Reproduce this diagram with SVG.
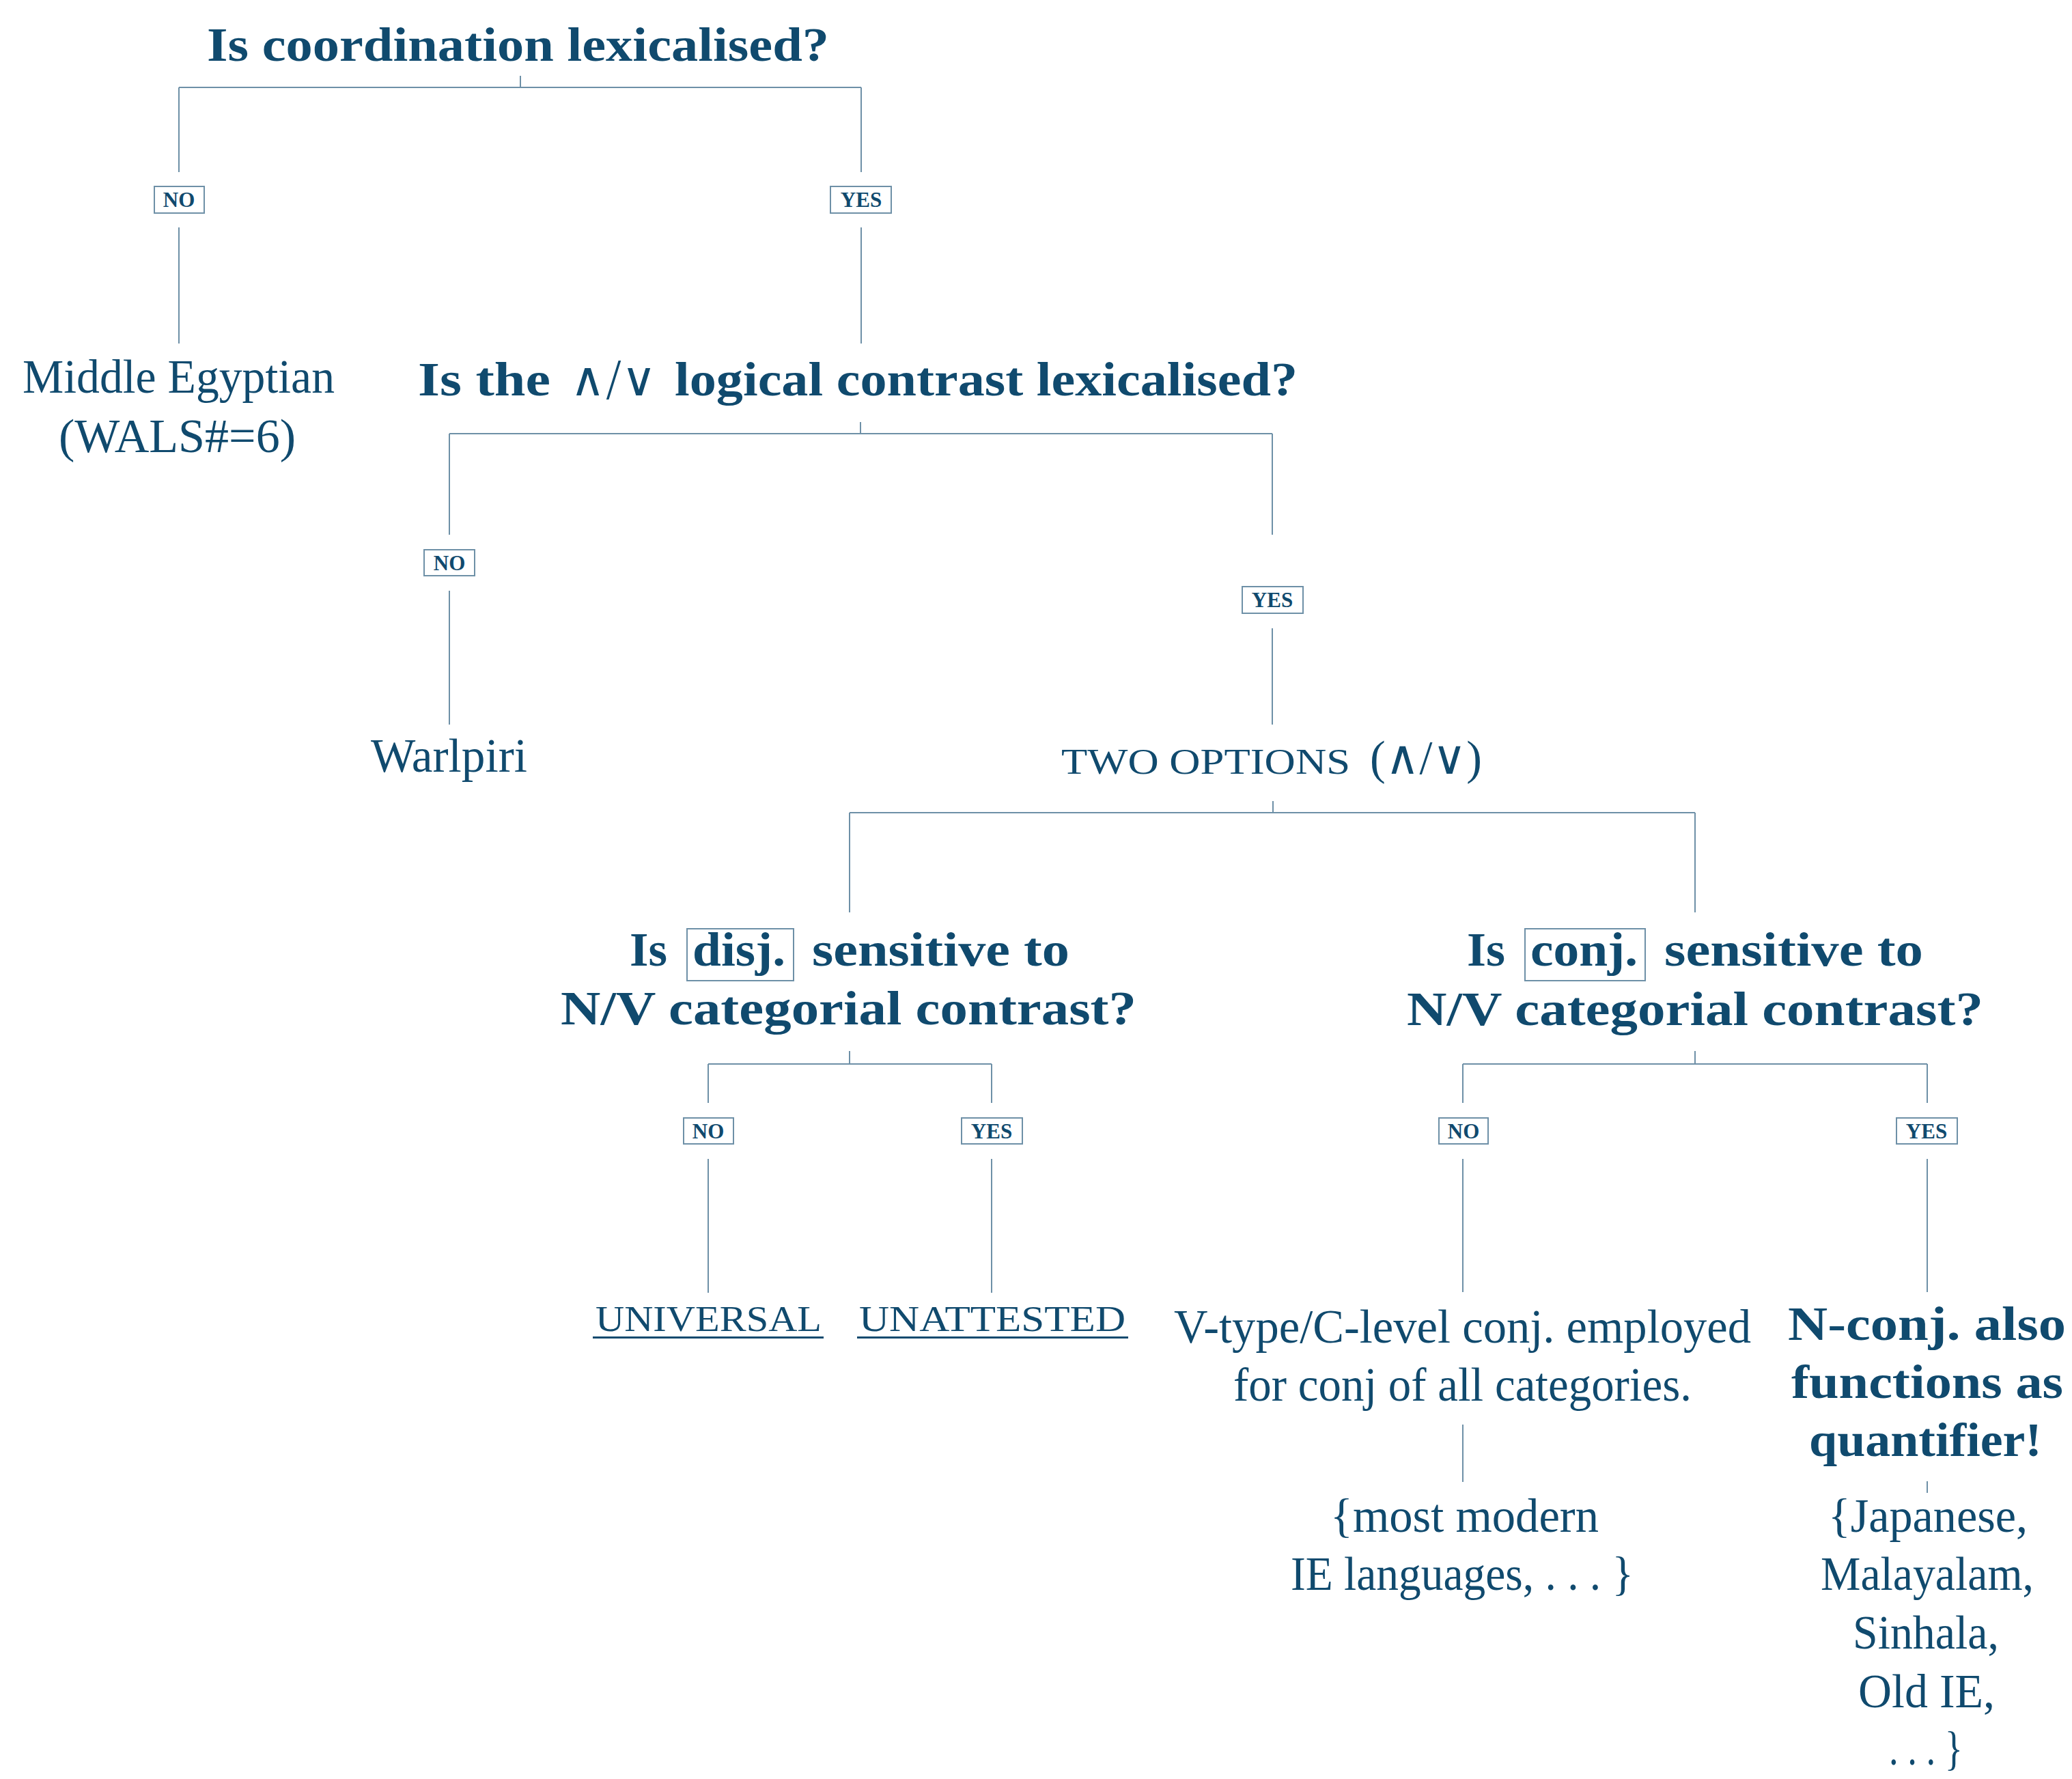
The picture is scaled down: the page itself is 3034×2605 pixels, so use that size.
<svg xmlns="http://www.w3.org/2000/svg" width="3034" height="2605" viewBox="0 0 3034 2605">
<style>
text{font-family:"Liberation Serif","DejaVu Serif",serif;fill:#104a6e}
.b{font-weight:bold;font-size:69px}
.r{font-size:69px}
.sc{font-size:53px}
.m{font-family:"DejaVu Sans","Liberation Serif",sans-serif;font-weight:200}
.lbl{font-weight:bold;font-size:31px;text-anchor:middle}
.edge{fill:none;stroke:#6e90a7;stroke-width:2}
.box{fill:#fff;stroke:#6e90a7;stroke-width:2}
.ul{fill:#104a6e}
</style>
<rect width="3034" height="2605" fill="#fff"/>
<g id="connectors" class="edge">
<path d="M762,111V128M262,128H1261M262,128V252M1261,128V252M262,333V503M1261,333V503"/>
<path d="M1260,618V635M658,635H1863M658,635V783M1863,635V783M658,865V1061M1863,920V1061"/>
<path d="M1864,1173V1190M1244,1190H2482M1244,1190V1336M2482,1190V1336"/>
<path d="M1244,1539V1558M1037,1558H1452M1037,1558V1615M1452,1558V1615M1037,1697V1893M1452,1697V1893"/>
<path d="M2482,1539V1558M2142,1558H2822M2142,1558V1615M2822,1558V1615M2142,1697V1892M2822,1697V1892"/>
<path d="M2142,2086V2170M2822,2169V2186"/>
</g>
<g id="labels">
<g id="l1"><rect class="box" x="226" y="273" width="73" height="39"/><text class="lbl" x="262" y="303">NO</text></g>
<g id="l2"><rect class="box" x="1216" y="273" width="89" height="39"/><text class="lbl" x="1261" y="303">YES</text></g>
<g id="l3"><rect class="box" x="621" y="805" width="74" height="38"/><text class="lbl" x="658" y="835">NO</text></g>
<g id="l4"><rect class="box" x="1819" y="859" width="89" height="39"/><text class="lbl" x="1863" y="889">YES</text></g>
<g id="l5"><rect class="box" x="1001" y="1637" width="73" height="38"/><text class="lbl" x="1037" y="1667">NO</text></g>
<g id="l6"><rect class="box" x="1408" y="1637" width="89" height="38"/><text class="lbl" x="1452" y="1667">YES</text></g>
<g id="l7"><rect class="box" x="2107" y="1637" width="72" height="38"/><text class="lbl" x="2143" y="1667">NO</text></g>
<g id="l8"><rect class="box" x="2777" y="1637" width="89" height="38"/><text class="lbl" x="2821" y="1667">YES</text></g>
</g>
<g id="n-root"><text class="b" x="303" y="89" textLength="911" lengthAdjust="spacingAndGlyphs">Is coordination lexicalised?</text></g>
<g id="n-egypt">
<text class="r" x="33" y="575" textLength="457" lengthAdjust="spacingAndGlyphs">Middle Egyptian</text>
<text class="r" x="86" y="662" textLength="347" lengthAdjust="spacingAndGlyphs">(WALS#=6)</text>
</g>
<g id="n-logical"><text class="b" y="579"><tspan x="612" textLength="194" lengthAdjust="spacingAndGlyphs">Is the</tspan> <tspan class="m" x="835" textLength="127" lengthAdjust="spacingAndGlyphs">∧/∨</tspan> <tspan x="988" textLength="912" lengthAdjust="spacingAndGlyphs">logical contrast lexicalised?</tspan></text></g>
<g id="n-warlpiri"><text class="r" x="543" y="1130" textLength="229" lengthAdjust="spacingAndGlyphs">Warlpiri</text></g>
<g id="n-two"><text y="1133"><tspan class="sc" x="1554" textLength="423" lengthAdjust="spacingAndGlyphs">TWO OPTIONS</tspan> <tspan class="r" x="2006" textLength="164" lengthAdjust="spacingAndGlyphs">(∧/∨)</tspan></text></g>
<g id="n-disj">
<rect class="box" x="1006" y="1360" width="156" height="76"/>
<text class="b" y="1414"><tspan x="922" textLength="55" lengthAdjust="spacingAndGlyphs">Is</tspan> <tspan x="1014" textLength="136" lengthAdjust="spacingAndGlyphs">disj.</tspan> <tspan x="1189" textLength="377" lengthAdjust="spacingAndGlyphs">sensitive to</tspan></text>
<text class="b" x="821" y="1500" textLength="843" lengthAdjust="spacingAndGlyphs">N/V categorial contrast?</text>
</g>
<g id="n-conj">
<rect class="box" x="2233" y="1360" width="176" height="76"/>
<text class="b" y="1414"><tspan x="2148" textLength="56" lengthAdjust="spacingAndGlyphs">Is</tspan> <tspan x="2241" textLength="157" lengthAdjust="spacingAndGlyphs">conj.</tspan> <tspan x="2437" textLength="379" lengthAdjust="spacingAndGlyphs">sensitive to</tspan></text>
<text class="b" x="2060" y="1501" textLength="844" lengthAdjust="spacingAndGlyphs">N/V categorial contrast?</text>
</g>
<g id="n-universal">
<text class="sc" x="872" y="1949" textLength="331" lengthAdjust="spacingAndGlyphs">UNIVERSAL</text>
<rect class="ul" x="868" y="1957" width="338" height="3"/>
</g>
<g id="n-unattested">
<text class="sc" x="1258" y="1949" textLength="390" lengthAdjust="spacingAndGlyphs">UNATTESTED</text>
<rect class="ul" x="1255" y="1957" width="397" height="3"/>
</g>
<g id="n-vtype">
<text class="r" x="1719" y="1966" textLength="845" lengthAdjust="spacingAndGlyphs">V-type/C-level conj. employed</text>
<text class="r" x="1806" y="2051" textLength="671" lengthAdjust="spacingAndGlyphs">for conj of all categories.</text>
</g>
<g id="n-nconj">
<text class="b" x="2618" y="1962" textLength="407" lengthAdjust="spacingAndGlyphs">N-conj. also</text>
<text class="b" x="2623" y="2047" textLength="398" lengthAdjust="spacingAndGlyphs">functions as</text>
<text class="b" x="2649" y="2132" textLength="341" lengthAdjust="spacingAndGlyphs">quantifier!</text>
</g>
<g id="n-modern">
<text class="r" x="1948" y="2243" textLength="393" lengthAdjust="spacingAndGlyphs">{most modern</text>
<text class="r" x="1890" y="2328" textLength="502" lengthAdjust="spacingAndGlyphs">IE languages, . . . }</text>
</g>
<g id="n-japanese">
<text class="r" x="2677" y="2243" textLength="292" lengthAdjust="spacingAndGlyphs">{Japanese,</text>
<text class="r" x="2666" y="2328" textLength="312" lengthAdjust="spacingAndGlyphs">Malayalam,</text>
<text class="r" x="2713" y="2414" textLength="214" lengthAdjust="spacingAndGlyphs">Sinhala,</text>
<text class="r" x="2721" y="2500" textLength="200" lengthAdjust="spacingAndGlyphs">Old IE,</text>
<text class="r" x="2766" y="2584" textLength="108" lengthAdjust="spacingAndGlyphs">. . . }</text>
</g>
</svg>
